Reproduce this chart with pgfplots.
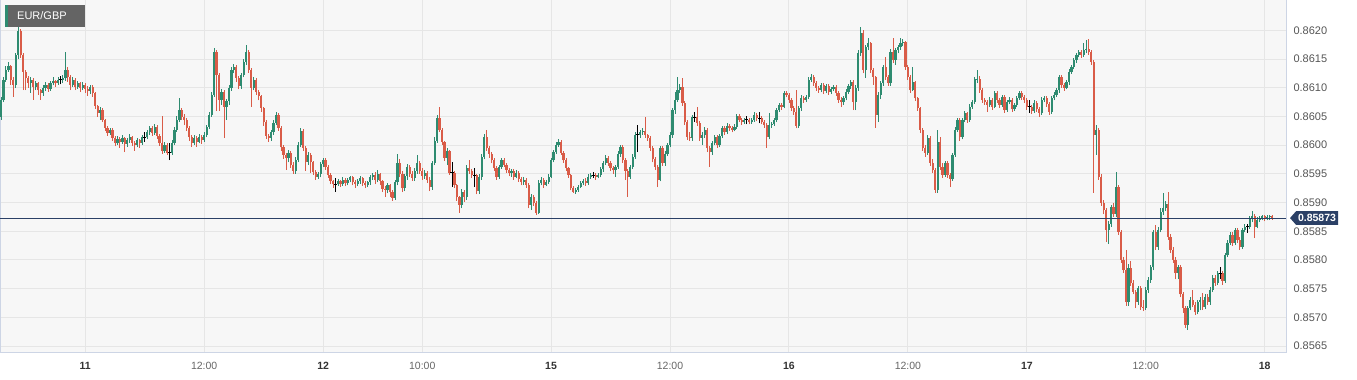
\documentclass[border=0pt]{standalone}
\usepackage{pgfplots}
\pgfplotsset{compat=1.18}
\usepackage{pgfplotstable}
\usepackage{fontspec}
\setmainfont{Liberation Sans}
\definecolor{upc}{HTML}{2E8B70}
\definecolor{dnc}{HTML}{D95C48}
\definecolor{bgc}{HTML}{F7F7F7}
\definecolor{gridc}{HTML}{E6E6E6}
\definecolor{bordc}{HTML}{CDD5E5}
\definecolor{navyc}{HTML}{2B4066}
\definecolor{tickc}{HTML}{555555}
\definecolor{dayc}{HTML}{333333}
\definecolor{labc}{HTML}{666666}
\definecolor{boxc}{HTML}{646464}
\newcommand{\dl}[1]{\textcolor{dayc}{\bfseries #1}}

\pgfplotstableread{
o h l c
0.86049 0.86084 0.86044 0.86079
0.86079 0.86119 0.86075 0.86114
0.86114 0.86138 0.86110 0.86131
0.86131 0.86145 0.86128 0.86138
0.86138 0.86140 0.86105 0.86114
0.86114 0.86118 0.86084 0.86105
0.86105 0.86160 0.86100 0.86157
0.86157 0.86209 0.86150 0.86199
0.86199 0.86203 0.86152 0.86157
0.86157 0.86160 0.86096 0.86128
0.86128 0.86131 0.86096 0.86117
0.86117 0.86120 0.86100 0.86108
0.86108 0.86119 0.86091 0.86114
0.86114 0.86117 0.86079 0.86101
0.86101 0.86112 0.86096 0.86108
0.86108 0.86110 0.86088 0.86096
0.86096 0.86098 0.86079 0.86091
0.86091 0.86105 0.86086 0.86100
0.86100 0.86110 0.86094 0.86105
0.86105 0.86108 0.86093 0.86098
0.86098 0.86112 0.86095 0.86108
0.86108 0.86119 0.86104 0.86112
0.86112 0.86114 0.86102 0.86108
0.86108 0.86118 0.86105 0.86114
0.86114 0.86120 0.86106 0.86114
0.86114 0.86122 0.86108 0.86117
0.86117 0.86162 0.86112 0.86131
0.86131 0.86136 0.86110 0.86119
0.86119 0.86122 0.86096 0.86105
0.86105 0.86119 0.86101 0.86114
0.86114 0.86117 0.86096 0.86101
0.86101 0.86112 0.86098 0.86108
0.86108 0.86110 0.86093 0.86100
0.86100 0.86110 0.86096 0.86105
0.86105 0.86108 0.86091 0.86098
0.86098 0.86103 0.86086 0.86094
0.86094 0.86105 0.86089 0.86101
0.86101 0.86104 0.86084 0.86091
0.86091 0.86093 0.86063 0.86068
0.86068 0.86070 0.86049 0.86056
0.86056 0.86066 0.86044 0.86062
0.86062 0.86064 0.86040 0.86044
0.86044 0.86046 0.86025 0.86030
0.86030 0.86033 0.86016 0.86021
0.86021 0.86030 0.86018 0.86027
0.86027 0.86029 0.86008 0.86013
0.86013 0.86016 0.85998 0.86004
0.86004 0.86016 0.86000 0.86011
0.86011 0.86014 0.85995 0.86006
0.86006 0.86018 0.86002 0.86013
0.86013 0.86015 0.85988 0.86002
0.86002 0.86013 0.85997 0.86009
0.86009 0.86019 0.86004 0.86014
0.86014 0.86016 0.85999 0.86004
0.86004 0.86007 0.85990 0.86000
0.86000 0.86013 0.85996 0.86009
0.86009 0.86011 0.85995 0.86004
0.86004 0.86018 0.86001 0.86014
0.86014 0.86022 0.86006 0.86014
0.86014 0.86027 0.86010 0.86023
0.86023 0.86034 0.86018 0.86030
0.86030 0.86033 0.86016 0.86021
0.86021 0.86036 0.86018 0.86032
0.86032 0.86035 0.86011 0.86016
0.86016 0.86019 0.85999 0.86004
0.86004 0.86051 0.85985 0.85990
0.85990 0.86006 0.85987 0.86000
0.86000 0.86004 0.85983 0.85987
0.85987 0.86004 0.85974 0.85987
0.85987 0.86009 0.85983 0.86004
0.86004 0.86031 0.86000 0.86027
0.86027 0.86050 0.86023 0.86044
0.86044 0.86082 0.86040 0.86061
0.86061 0.86065 0.86044 0.86049
0.86049 0.86055 0.86035 0.86044
0.86044 0.86047 0.86025 0.86030
0.86030 0.86033 0.86008 0.86014
0.86014 0.86018 0.85997 0.86004
0.86004 0.86018 0.86000 0.86013
0.86013 0.86016 0.85997 0.86006
0.86006 0.86020 0.86003 0.86014
0.86014 0.86018 0.86002 0.86009
0.86009 0.86023 0.86006 0.86018
0.86018 0.86035 0.86014 0.86032
0.86032 0.86058 0.86028 0.86053
0.86053 0.86093 0.86049 0.86088
0.86088 0.86170 0.86084 0.86163
0.86163 0.86166 0.86060 0.86122
0.86122 0.86125 0.86060 0.86079
0.86079 0.86098 0.86070 0.86093
0.86093 0.86096 0.86012 0.86067
0.86067 0.86081 0.86044 0.86076
0.86076 0.86105 0.86070 0.86100
0.86100 0.86136 0.86095 0.86131
0.86131 0.86141 0.86125 0.86136
0.86136 0.86140 0.86110 0.86117
0.86117 0.86120 0.86097 0.86103
0.86103 0.86126 0.86098 0.86122
0.86122 0.86150 0.86118 0.86145
0.86145 0.86175 0.86140 0.86162
0.86162 0.86165 0.86126 0.86131
0.86131 0.86134 0.86067 0.86100
0.86100 0.86118 0.86096 0.86114
0.86114 0.86117 0.86088 0.86093
0.86093 0.86096 0.86078 0.86085
0.86085 0.86088 0.86058 0.86065
0.86065 0.86067 0.86034 0.86040
0.86040 0.86043 0.86011 0.86016
0.86016 0.86020 0.86006 0.86013
0.86013 0.86027 0.86008 0.86023
0.86023 0.86043 0.86018 0.86039
0.86039 0.86058 0.86035 0.86053
0.86053 0.86056 0.86025 0.86030
0.86030 0.86034 0.85990 0.85996
0.85996 0.86000 0.85976 0.85983
0.85983 0.85986 0.85957 0.85978
0.85978 0.85991 0.85970 0.85987
0.85987 0.85990 0.85960 0.85966
0.85966 0.85970 0.85950 0.85955
0.85955 0.85980 0.85950 0.85974
0.85974 0.86005 0.85970 0.86000
0.86000 0.86030 0.85996 0.86025
0.86025 0.86028 0.85990 0.85995
0.85995 0.85998 0.85955 0.85971
0.85971 0.85988 0.85966 0.85983
0.85983 0.85986 0.85952 0.85970
0.85970 0.85973 0.85948 0.85953
0.85953 0.85956 0.85940 0.85945
0.85945 0.85954 0.85941 0.85950
0.85950 0.85971 0.85944 0.85967
0.85967 0.85978 0.85962 0.85974
0.85974 0.85977 0.85957 0.85962
0.85962 0.85965 0.85943 0.85948
0.85948 0.85951 0.85932 0.85938
0.85938 0.85940 0.85926 0.85932
0.85932 0.85943 0.85919 0.85932
0.85932 0.85941 0.85929 0.85938
0.85938 0.85940 0.85927 0.85933
0.85933 0.85944 0.85929 0.85940
0.85940 0.85942 0.85928 0.85934
0.85934 0.85943 0.85930 0.85939
0.85939 0.85947 0.85935 0.85944
0.85944 0.85946 0.85930 0.85936
0.85936 0.85939 0.85926 0.85932
0.85932 0.85941 0.85928 0.85937
0.85937 0.85946 0.85933 0.85942
0.85942 0.85944 0.85929 0.85934
0.85934 0.85937 0.85925 0.85930
0.85930 0.85938 0.85927 0.85935
0.85935 0.85948 0.85931 0.85944
0.85944 0.85952 0.85940 0.85948
0.85948 0.85953 0.85932 0.85940
0.85940 0.85956 0.85935 0.85950
0.85950 0.85952 0.85930 0.85938
0.85938 0.85940 0.85918 0.85924
0.85924 0.85929 0.85910 0.85922
0.85922 0.85934 0.85916 0.85930
0.85930 0.85933 0.85910 0.85918
0.85918 0.85922 0.85903 0.85908
0.85908 0.85940 0.85905 0.85935
0.85935 0.85985 0.85930 0.85968
0.85968 0.85975 0.85944 0.85950
0.85950 0.85955 0.85918 0.85925
0.85925 0.85950 0.85920 0.85946
0.85946 0.85967 0.85940 0.85962
0.85962 0.85966 0.85945 0.85950
0.85950 0.85955 0.85938 0.85943
0.85943 0.85960 0.85938 0.85955
0.85955 0.85983 0.85950 0.85969
0.85969 0.85972 0.85950 0.85955
0.85955 0.85960 0.85940 0.85946
0.85946 0.85956 0.85941 0.85952
0.85952 0.85955 0.85934 0.85940
0.85940 0.85945 0.85920 0.85927
0.85927 0.85973 0.85922 0.85969
0.85969 0.86014 0.85965 0.86008
0.86008 0.86053 0.86004 0.86047
0.86047 0.86067 0.86023 0.86027
0.86027 0.86030 0.86001 0.86006
0.86006 0.86008 0.85972 0.85978
0.85978 0.85995 0.85965 0.85990
0.85990 0.85992 0.85948 0.85952
0.85952 0.85971 0.85927 0.85952
0.85952 0.85955 0.85925 0.85931
0.85931 0.85933 0.85903 0.85910
0.85910 0.85912 0.85882 0.85896
0.85896 0.85923 0.85890 0.85919
0.85919 0.85922 0.85901 0.85910
0.85910 0.85965 0.85905 0.85960
0.85960 0.85974 0.85950 0.85955
0.85955 0.85958 0.85943 0.85948
0.85948 0.85960 0.85927 0.85948
0.85948 0.85950 0.85914 0.85920
0.85920 0.85949 0.85915 0.85945
0.85945 0.85985 0.85940 0.85980
0.85980 0.86020 0.85975 0.86014
0.86014 0.86027 0.85990 0.85995
0.85995 0.85998 0.85978 0.85985
0.85985 0.85988 0.85968 0.85974
0.85974 0.85977 0.85955 0.85960
0.85960 0.85963 0.85940 0.85945
0.85945 0.85966 0.85941 0.85962
0.85962 0.85978 0.85958 0.85974
0.85974 0.85977 0.85962 0.85966
0.85966 0.85969 0.85952 0.85957
0.85957 0.85960 0.85946 0.85952
0.85952 0.85959 0.85945 0.85955
0.85955 0.85958 0.85940 0.85945
0.85945 0.85956 0.85942 0.85952
0.85952 0.85955 0.85936 0.85941
0.85941 0.85944 0.85930 0.85936
0.85936 0.85944 0.85931 0.85940
0.85940 0.85942 0.85926 0.85931
0.85931 0.85934 0.85890 0.85896
0.85896 0.85914 0.85887 0.85910
0.85910 0.85913 0.85894 0.85899
0.85899 0.85903 0.85878 0.85882
0.85882 0.85939 0.85880 0.85934
0.85934 0.85944 0.85930 0.85939
0.85939 0.85942 0.85926 0.85931
0.85931 0.85940 0.85928 0.85936
0.85936 0.85949 0.85933 0.85945
0.85945 0.85978 0.85942 0.85974
0.85974 0.85992 0.85970 0.85988
0.85988 0.86005 0.85985 0.86000
0.86000 0.86011 0.85997 0.86006
0.86006 0.86009 0.85983 0.85987
0.85987 0.85990 0.85969 0.85974
0.85974 0.85977 0.85955 0.85960
0.85960 0.85962 0.85943 0.85948
0.85948 0.85950 0.85921 0.85926
0.85926 0.85929 0.85917 0.85919
0.85919 0.85926 0.85915 0.85922
0.85922 0.85931 0.85919 0.85927
0.85927 0.85938 0.85925 0.85934
0.85934 0.85941 0.85930 0.85938
0.85938 0.85942 0.85929 0.85934
0.85934 0.85949 0.85931 0.85945
0.85945 0.85952 0.85941 0.85948
0.85948 0.85953 0.85943 0.85948
0.85948 0.85951 0.85940 0.85945
0.85945 0.85952 0.85942 0.85948
0.85948 0.85962 0.85944 0.85958
0.85958 0.85973 0.85954 0.85969
0.85969 0.85982 0.85965 0.85978
0.85978 0.85981 0.85964 0.85969
0.85969 0.85973 0.85955 0.85960
0.85960 0.85964 0.85950 0.85957
0.85957 0.85966 0.85945 0.85962
0.85962 0.85989 0.85958 0.85985
0.85985 0.86001 0.85980 0.85997
0.85997 0.86000 0.85969 0.85974
0.85974 0.85977 0.85940 0.85955
0.85955 0.85958 0.85910 0.85945
0.85945 0.85966 0.85941 0.85962
0.85962 0.85984 0.85958 0.85980
0.85980 0.86022 0.85976 0.86018
0.86018 0.86035 0.85988 0.86018
0.86018 0.86027 0.86012 0.86023
0.86023 0.86030 0.86018 0.86025
0.86025 0.86049 0.86013 0.86018
0.86018 0.86020 0.86008 0.86013
0.86013 0.86016 0.85990 0.85995
0.85995 0.85998 0.85970 0.85975
0.85975 0.85979 0.85957 0.85962
0.85962 0.85966 0.85927 0.85940
0.85940 0.85999 0.85937 0.85995
0.85995 0.85999 0.85964 0.85969
0.85969 0.85989 0.85964 0.85985
0.85985 0.86004 0.85981 0.86000
0.86000 0.86022 0.85996 0.86018
0.86018 0.86065 0.86013 0.86061
0.86061 0.86093 0.86055 0.86079
0.86079 0.86119 0.86075 0.86096
0.86096 0.86106 0.86090 0.86101
0.86101 0.86117 0.86069 0.86074
0.86074 0.86077 0.86035 0.86040
0.86040 0.86043 0.86009 0.86014
0.86014 0.86023 0.86008 0.86013
0.86013 0.86053 0.86008 0.86049
0.86049 0.86058 0.86040 0.86049
0.86049 0.86067 0.86034 0.86039
0.86039 0.86042 0.86008 0.86013
0.86013 0.86022 0.86000 0.86018
0.86018 0.86031 0.86013 0.86027
0.86027 0.86030 0.85988 0.85995
0.85995 0.85998 0.85962 0.85988
0.85988 0.86008 0.85983 0.86004
0.86004 0.86018 0.86000 0.86014
0.86014 0.86017 0.85995 0.86000
0.86000 0.86020 0.85996 0.86016
0.86016 0.86034 0.86012 0.86030
0.86030 0.86034 0.86018 0.86023
0.86023 0.86038 0.86019 0.86034
0.86034 0.86037 0.86025 0.86030
0.86030 0.86033 0.86022 0.86027
0.86027 0.86036 0.86024 0.86032
0.86032 0.86055 0.86028 0.86051
0.86051 0.86054 0.86040 0.86044
0.86044 0.86047 0.86035 0.86040
0.86040 0.86048 0.86037 0.86044
0.86044 0.86050 0.86036 0.86044
0.86044 0.86047 0.86036 0.86040
0.86040 0.86048 0.86037 0.86044
0.86044 0.86057 0.86040 0.86053
0.86053 0.86056 0.86042 0.86047
0.86047 0.86058 0.86038 0.86047
0.86047 0.86050 0.86036 0.86040
0.86040 0.86043 0.86030 0.86035
0.86035 0.86038 0.85995 0.86014
0.86014 0.86056 0.86010 0.86035
0.86035 0.86041 0.86030 0.86037
0.86037 0.86048 0.86034 0.86044
0.86044 0.86065 0.86040 0.86061
0.86061 0.86074 0.86058 0.86070
0.86070 0.86073 0.86062 0.86067
0.86067 0.86095 0.86064 0.86091
0.86091 0.86094 0.86083 0.86088
0.86088 0.86091 0.86074 0.86079
0.86079 0.86082 0.86060 0.86065
0.86065 0.86068 0.86053 0.86058
0.86058 0.86096 0.86029 0.86034
0.86034 0.86069 0.86030 0.86065
0.86065 0.86087 0.86060 0.86082
0.86082 0.86086 0.86074 0.86079
0.86079 0.86088 0.86075 0.86084
0.86084 0.86118 0.86080 0.86114
0.86114 0.86124 0.86110 0.86119
0.86119 0.86122 0.86103 0.86108
0.86108 0.86111 0.86095 0.86100
0.86100 0.86103 0.86091 0.86096
0.86096 0.86109 0.86092 0.86105
0.86105 0.86108 0.86089 0.86094
0.86094 0.86107 0.86090 0.86103
0.86103 0.86106 0.86088 0.86093
0.86093 0.86102 0.86089 0.86098
0.86098 0.86105 0.86094 0.86101
0.86101 0.86104 0.86086 0.86091
0.86091 0.86094 0.86074 0.86079
0.86079 0.86083 0.86067 0.86075
0.86075 0.86086 0.86070 0.86082
0.86082 0.86097 0.86078 0.86093
0.86093 0.86107 0.86089 0.86103
0.86103 0.86114 0.86098 0.86110
0.86110 0.86113 0.86061 0.86075
0.86075 0.86104 0.86061 0.86100
0.86100 0.86166 0.86095 0.86160
0.86160 0.86206 0.86155 0.86196
0.86196 0.86201 0.86125 0.86131
0.86131 0.86175 0.86117 0.86171
0.86171 0.86187 0.86165 0.86178
0.86178 0.86180 0.86126 0.86131
0.86131 0.86134 0.86105 0.86119
0.86119 0.86121 0.86030 0.86053
0.86053 0.86093 0.86040 0.86088
0.86088 0.86112 0.86080 0.86108
0.86108 0.86140 0.86103 0.86136
0.86136 0.86154 0.86114 0.86119
0.86119 0.86122 0.86103 0.86108
0.86108 0.86167 0.86103 0.86163
0.86163 0.86187 0.86143 0.86148
0.86148 0.86170 0.86140 0.86166
0.86166 0.86175 0.86160 0.86171
0.86171 0.86187 0.86166 0.86178
0.86178 0.86185 0.86172 0.86180
0.86180 0.86182 0.86131 0.86136
0.86136 0.86139 0.86114 0.86119
0.86119 0.86122 0.86091 0.86096
0.86096 0.86136 0.86094 0.86110
0.86110 0.86112 0.86077 0.86082
0.86082 0.86084 0.86060 0.86065
0.86065 0.86067 0.86021 0.86027
0.86027 0.86030 0.85990 0.85995
0.85995 0.86000 0.85980 0.85987
0.85987 0.86017 0.85983 0.86013
0.86013 0.86016 0.85964 0.85969
0.85969 0.85975 0.85952 0.85957
0.85957 0.85960 0.85917 0.85922
0.85922 0.86027 0.85917 0.86006
0.86006 0.86014 0.85957 0.85962
0.85962 0.85968 0.85943 0.85948
0.85948 0.85973 0.85945 0.85969
0.85969 0.85972 0.85943 0.85948
0.85948 0.85951 0.85927 0.85941
0.85941 0.85987 0.85938 0.85983
0.85983 0.86031 0.85980 0.86027
0.86027 0.86048 0.86023 0.86044
0.86044 0.86047 0.86008 0.86014
0.86014 0.86048 0.86010 0.86044
0.86044 0.86060 0.86040 0.86056
0.86056 0.86058 0.86039 0.86044
0.86044 0.86071 0.86040 0.86067
0.86067 0.86079 0.86063 0.86075
0.86075 0.86119 0.86072 0.86115
0.86115 0.86131 0.86108 0.86116
0.86116 0.86120 0.86091 0.86096
0.86096 0.86099 0.86074 0.86079
0.86079 0.86082 0.86070 0.86075
0.86075 0.86078 0.86058 0.86070
0.86070 0.86083 0.86066 0.86079
0.86079 0.86082 0.86062 0.86067
0.86067 0.86095 0.86064 0.86091
0.86091 0.86094 0.86074 0.86079
0.86079 0.86082 0.86065 0.86070
0.86070 0.86088 0.86067 0.86084
0.86084 0.86087 0.86056 0.86061
0.86061 0.86079 0.86058 0.86075
0.86075 0.86083 0.86071 0.86079
0.86079 0.86082 0.86058 0.86063
0.86063 0.86074 0.86060 0.86070
0.86070 0.86086 0.86067 0.86082
0.86082 0.86095 0.86079 0.86091
0.86091 0.86094 0.86079 0.86084
0.86084 0.86087 0.86074 0.86079
0.86079 0.86082 0.86062 0.86067
0.86067 0.86079 0.86056 0.86067
0.86067 0.86070 0.86055 0.86060
0.86060 0.86078 0.86056 0.86074
0.86074 0.86077 0.86058 0.86063
0.86063 0.86066 0.86049 0.86056
0.86056 0.86083 0.86053 0.86079
0.86079 0.86086 0.86075 0.86082
0.86082 0.86085 0.86067 0.86072
0.86072 0.86075 0.86053 0.86058
0.86058 0.86086 0.86055 0.86082
0.86082 0.86092 0.86078 0.86088
0.86088 0.86100 0.86084 0.86096
0.86096 0.86123 0.86091 0.86119
0.86119 0.86122 0.86100 0.86105
0.86105 0.86108 0.86095 0.86100
0.86100 0.86114 0.86097 0.86110
0.86110 0.86132 0.86105 0.86128
0.86128 0.86140 0.86124 0.86136
0.86136 0.86152 0.86132 0.86148
0.86148 0.86161 0.86143 0.86157
0.86157 0.86166 0.86153 0.86162
0.86162 0.86166 0.86152 0.86157
0.86157 0.86178 0.86154 0.86166
0.86166 0.86183 0.86160 0.86168
0.86168 0.86185 0.86157 0.86162
0.86162 0.86166 0.86140 0.86145
0.86145 0.86148 0.85917 0.86018
0.86018 0.86035 0.85983 0.86027
0.86027 0.86030 0.85940 0.85945
0.85945 0.85950 0.85894 0.85899
0.85899 0.85905 0.85880 0.85887
0.85887 0.85890 0.85831 0.85852
0.85852 0.85868 0.85828 0.85863
0.85863 0.85896 0.85858 0.85892
0.85892 0.85900 0.85875 0.85880
0.85880 0.85953 0.85875 0.85927
0.85927 0.85931 0.85844 0.85849
0.85849 0.85852 0.85795 0.85800
0.85800 0.85805 0.85777 0.85783
0.85783 0.85818 0.85720 0.85727
0.85727 0.85793 0.85720 0.85786
0.85786 0.85798 0.85755 0.85760
0.85760 0.85765 0.85740 0.85745
0.85745 0.85748 0.85716 0.85727
0.85727 0.85755 0.85722 0.85751
0.85751 0.85755 0.85713 0.85718
0.85718 0.85730 0.85711 0.85716
0.85716 0.85752 0.85713 0.85748
0.85748 0.85770 0.85742 0.85765
0.85765 0.85792 0.85760 0.85788
0.85788 0.85853 0.85782 0.85849
0.85849 0.85860 0.85818 0.85823
0.85823 0.85858 0.85818 0.85853
0.85853 0.85890 0.85848 0.85884
0.85884 0.85917 0.85878 0.85891
0.85891 0.85903 0.85886 0.85898
0.85898 0.85919 0.85835 0.85840
0.85840 0.85845 0.85812 0.85818
0.85818 0.85822 0.85795 0.85800
0.85800 0.85805 0.85766 0.85777
0.85777 0.85792 0.85766 0.85788
0.85788 0.85792 0.85735 0.85740
0.85740 0.85745 0.85708 0.85716
0.85716 0.85720 0.85682 0.85687
0.85687 0.85720 0.85678 0.85716
0.85716 0.85736 0.85712 0.85730
0.85730 0.85748 0.85718 0.85722
0.85722 0.85727 0.85704 0.85709
0.85709 0.85731 0.85705 0.85727
0.85727 0.85735 0.85712 0.85730
0.85730 0.85743 0.85713 0.85718
0.85718 0.85740 0.85714 0.85736
0.85736 0.85740 0.85722 0.85727
0.85727 0.85752 0.85722 0.85748
0.85748 0.85773 0.85744 0.85769
0.85769 0.85773 0.85755 0.85760
0.85760 0.85781 0.85756 0.85777
0.85777 0.85787 0.85767 0.85777
0.85777 0.85780 0.85757 0.85763
0.85763 0.85812 0.85760 0.85808
0.85808 0.85834 0.85805 0.85830
0.85830 0.85848 0.85826 0.85844
0.85844 0.85848 0.85825 0.85830
0.85830 0.85856 0.85826 0.85852
0.85852 0.85856 0.85830 0.85835
0.85835 0.85840 0.85818 0.85823
0.85823 0.85856 0.85819 0.85852
0.85852 0.85862 0.85848 0.85858
0.85858 0.85863 0.85847 0.85858
0.85858 0.85877 0.85854 0.85873
0.85873 0.85886 0.85866 0.85877
0.85877 0.85880 0.85838 0.85858
0.85858 0.85874 0.85855 0.85870
0.85870 0.85877 0.85866 0.85872
0.85872 0.85879 0.85869 0.85876
0.85876 0.85878 0.85867 0.85871
0.85871 0.85878 0.85869 0.85875
0.85875 0.85879 0.85870 0.85876
0.85876 0.85878 0.85870 0.85873
}\candles

\begin{document}
\begin{tikzpicture}
\begin{axis}[
  scale only axis, width=1286pt, height=353pt,
  at={(0pt,0pt)}, anchor=south west,
  xmin=-0.4, xmax=518.6, ymin=0.856379, ymax=0.862528,
  axis background/.style={fill=bgc},
  axis line style={draw=bordc, line width=1pt},
  grid=major, major grid style={draw=gridc, line width=1pt},
  xtick={34,82,130,170,222,270,318,366,414,462,510},
  xticklabels={\dl{11},12:00,\dl{12},10:00,\dl{15},12:00,\dl{16},12:00,\dl{17},12:00,\dl{18}},
  ytick={0.8565,0.857,0.8575,0.858,0.8585,0.859,0.8595,0.86,0.8605,0.861,0.8615,0.862},
  yticklabels={0.8565,0.8570,0.8575,0.8580,0.8585,0.8590,0.8595,0.8600,0.8605,0.8610,0.8615,0.8620},
  yticklabel pos=right,
  major tick length=0pt,
  tick style={draw=none},
  yticklabel style={font=\fontsize{11}{13}\selectfont, text=tickc, anchor=west, xshift=4pt},
  xticklabel style={font=\fontsize{10.5}{12}\selectfont, text=labc, anchor=north, yshift=-6pt},
  restrict y to domain=0.85:0.87,
]
% up wicks
\addplot[draw=none, forget plot, error bars/.cd, y dir=plus, y explicit, error mark=none,
  error bar style={draw=upc, line width=0.9pt}]
  table[x expr=\coordindex, y expr={\thisrow{c}-\thisrow{o}>0.000005 ? \thisrow{l} : 0},
        y error plus expr={\thisrow{h}-\thisrow{l}}] {\candles};
% down wicks
\addplot[draw=none, forget plot, error bars/.cd, y dir=plus, y explicit, error mark=none,
  error bar style={draw=dnc, line width=0.9pt}]
  table[x expr=\coordindex, y expr={\thisrow{o}-\thisrow{c}>0.000005 ? \thisrow{l} : 0},
        y error plus expr={\thisrow{h}-\thisrow{l}}] {\candles};
% doji wicks
\addplot[draw=none, forget plot, error bars/.cd, y dir=plus, y explicit, error mark=none,
  error bar style={draw=black, line width=0.9pt}]
  table[x expr=\coordindex, y expr={abs(\thisrow{c}-\thisrow{o})<0.000005 ? \thisrow{l} : 0},
        y error plus expr={\thisrow{h}-\thisrow{l}}] {\candles};
\addplot[only marks, forget plot, mark=-, mark size=1.6pt, mark options={draw=black, line width=0.9pt}]
  table[x expr=\coordindex, y expr={abs(\thisrow{c}-\thisrow{o})<0.000005 ? \thisrow{o} : 0}] {\candles};
% up bodies
\addplot[draw=none, forget plot, error bars/.cd, y dir=plus, y explicit, error mark=none,
  error bar style={draw=upc, line width=2.2pt}]
  table[x expr=\coordindex, y expr={\thisrow{c}-\thisrow{o}>0.000005 ? \thisrow{o} : 0},
        y error plus expr={\thisrow{c}-\thisrow{o}}] {\candles};
% down bodies
\addplot[draw=none, forget plot, error bars/.cd, y dir=plus, y explicit, error mark=none,
  error bar style={draw=dnc, line width=2.2pt}]
  table[x expr=\coordindex, y expr={\thisrow{o}-\thisrow{c}>0.000005 ? \thisrow{c} : 0},
        y error plus expr={\thisrow{o}-\thisrow{c}}] {\candles};
% last price line
\addplot[navyc, line width=1pt, forget plot] coordinates {(-0.4,0.85873) (518.6,0.85873)};
\coordinate (pl) at (axis cs:518.6,0.85873);
\end{axis}
% price tag
\fill[navyc] ([xshift=4pt]pl) -- ([xshift=10pt,yshift=6.8pt]pl) -- ([xshift=52pt,yshift=6.8pt]pl)
  -- ([xshift=52pt,yshift=-6.8pt]pl) -- ([xshift=10pt,yshift=-6.8pt]pl) -- cycle;
\node[text=white, font=\bfseries\fontsize{10.5}{12}\selectfont, inner sep=0pt] at ([xshift=31pt]pl) {0.85873};
% symbol box
\fill[boxc] (5pt,326pt) rectangle (85pt,348pt);
\fill[upc] (5pt,326pt) rectangle (7.5pt,348pt);
\node[text=white, font=\fontsize{11}{13}\selectfont, anchor=west, inner sep=0pt] at (17pt,337pt) {EUR/GBP};
\pgfresetboundingbox
\path[use as bounding box] (0pt,-27pt) rectangle (1357pt,353pt);
\end{tikzpicture}
\end{document}
